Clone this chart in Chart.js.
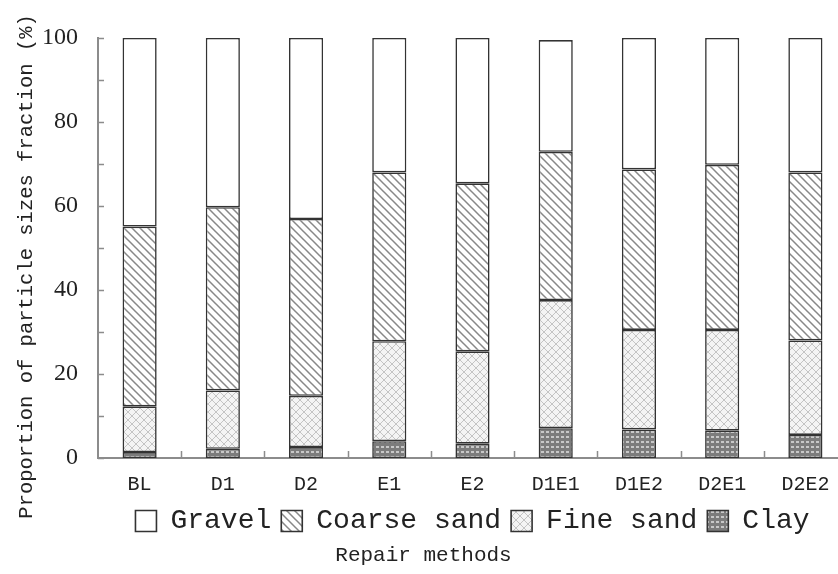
<!DOCTYPE html>
<html>
<head>
<meta charset="utf-8">
<script src="https://cdn.jsdelivr.net/npm/chart.js@4.4.1/dist/chart.umd.min.js"></script>
<style>
  html, body { margin: 0; padding: 0; background: #fff; overflow: hidden; }
  canvas { display: block; }
</style>
</head>
<body>
<canvas id="canvas" width="848" height="574"></canvas>
<script>
var canvas = document.getElementById("canvas");
var ctx = canvas.getContext("2d");

// data (percent of each fraction)
var methods = ['BL', 'D1', 'D2', 'E1', 'E2', 'D1E1', 'D1E2', 'D2E1', 'D2E2'];
var clay = [1.4, 2.2, 2.6, 4.0, 3.4, 7.1, 6.8, 6.5, 5.5];
var fineSand = [10.9, 13.9, 12.2, 23.8, 22.0, 30.5, 23.7, 24.0, 22.5];
var coarseSand = [42.8, 43.6, 42.1, 40.2, 40.0, 35.3, 38.2, 39.3, 40.0];
var gravel = [44.9, 40.3, 43.1, 32.0, 34.6, 26.6, 31.3, 30.2, 32.0];
var yTicks = [0, 20, 40, 60, 80, 100];

var mono = 'Liberation Mono';
var serif = 'Liberation Serif';

function makePattern(kind) {
    let p = document.createElement('canvas');
    let c = p.getContext('2d');
    if (kind == 'coarse') {
        p.width = 8; p.height = 8;
        c.fillStyle = '#fff';
        c.fillRect(0, 0, 8, 8);
        c.strokeStyle = '#888';
        c.lineWidth = 1.5;
        c.beginPath();
        c.moveTo(-2, -2); c.lineTo(10, 10);
        c.moveTo(-2, 6); c.lineTo(2, 10);
        c.moveTo(6, -2); c.lineTo(10, 2);
        c.stroke();
    } else if (kind == 'fine') {
        p.width = 8; p.height = 8;
        c.fillStyle = '#f4f4f4';
        c.fillRect(0, 0, 8, 8);
        c.strokeStyle = '#c4c4c4';
        c.lineWidth = 1;
        c.beginPath();
        c.moveTo(0, 4); c.lineTo(4, 0); c.lineTo(8, 4); c.lineTo(4, 8); c.closePath();
        c.stroke();
    } else {
        p.width = 5; p.height = 5;
        c.fillStyle = '#7c7c7c';
        c.fillRect(0, 0, 5, 5);
        c.fillStyle = '#c8c8c8';
        c.fillRect(1, 1, 3, 2);
    }
    return ctx.createPattern(p, 'repeat');
}

var tickMarks = {
    id: 'tickMarks',
    afterDatasetsDraw(chart) {
        let c = chart.ctx;
        let area = chart.chartArea;
        let x = chart.scales.x, y = chart.scales.y;
        c.save();
        c.strokeStyle = '#8c8c8c';
        c.lineWidth = 1.5;
        c.beginPath();
        y.ticks.forEach(t => {
            let py = Math.round(y.getPixelForValue(t.value)) + 0.5;
            c.moveTo(area.left, py);
            c.lineTo(area.left + 6, py);
        });
        for (let i = 0; i < x.ticks.length - 1; i++) {
            let px = Math.round((x.getPixelForTick(i) + x.getPixelForTick(i + 1)) / 2) + 0.5;
            c.moveTo(px, area.bottom);
            c.lineTo(px, area.bottom - 7);
        }
        c.stroke();
        c.restore();
    }
};

function series(label, data, fill) {
    return {
        label: label,
        data: data,
        backgroundColor: fill,
        borderColor: '#333',
        borderWidth: 1.6,
        borderSkipped: false,
        categoryPercentage: 1,
        barPercentage: 0.41
    };
}

var chart = new Chart(ctx, {
    type: 'bar',
    data: {
        labels: methods,
        datasets: [
            series('Clay', clay, makePattern('clay')),
            series('Fine sand', fineSand, makePattern('fine')),
            series('Coarse sand', coarseSand, makePattern('coarse')),
            series('Gravel', gravel, '#fff')
        ]
    },
    options: {
        responsive: false,
        animation: false,
        layout: { padding: { top: 38, right: 1, left: 0, bottom: 0 } },
        plugins: {
            tooltip: { enabled: false },
            legend: {
                position: 'bottom',
                fullSize: false,
                reverse: true,
                labels: {
                    font: { family: mono, size: 28 },
                    color: '#222',
                    boxWidth: 21,
                    boxHeight: 21,
                    padding: 10
                }
            },
            title: {
                display: true,
                position: 'bottom',
                text: 'Repair methods',
                color: '#222',
                font: { family: mono, size: 21, weight: 'normal', lineHeight: 1 },
                padding: { top: 0, bottom: 8 }
            }
        },
        scales: {
            x: {
                stacked: true,
                offset: true,
                grid: { display: false, drawTicks: false },
                border: { color: '#8c8c8c', width: 2 },
                ticks: {
                    color: '#222',
                    font: { family: mono, size: 20 },
                    padding: 15,
                    maxRotation: 0
                },
                afterFit: function (scale) { scale.height = 39; }
            },
            y: {
                stacked: true,
                min: 0,
                max: 100,
                grid: { display: false, drawTicks: false },
                border: { color: '#8c8c8c', width: 2 },
                ticks: {
                    stepSize: 10,
                    color: '#222',
                    font: { family: serif, size: 24 },
                    padding: 20,
                    callback: function (v) { return yTicks.indexOf(v) >= 0 ? v : ''; }
                },
                title: {
                    display: true,
                    text: 'Proportion of particle sizes fraction (%)   ',
                    color: '#222',
                    font: { family: mono, size: 20.5 },
                    padding: { top: 14, bottom: 0 }
                },
                afterFit: function (scale) { scale.width = 98; }
            }
        }
    },
    plugins: [tickMarks]
});
</script>
</body>
</html>
